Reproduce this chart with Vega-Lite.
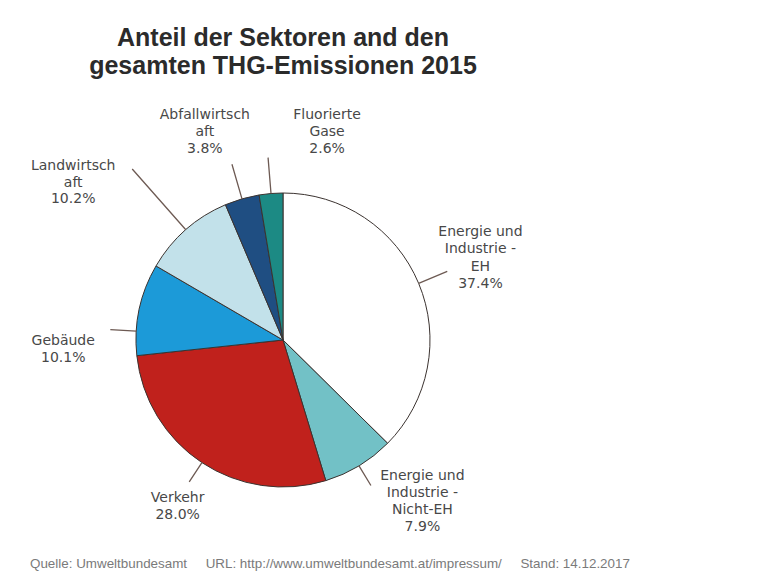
{
  "$schema": "https://vega.github.io/schema/vega-lite/v6.json",
  "background": "white",
  "padding": {"left": 0, "top": 25, "right": 0, "bottom": 0},
  "title": {
    "text": "Quelle: Umweltbundesamt\u00a0\u00a0\u00a0\u00a0\u00a0URL: http://www.umweltbundesamt.at/impressum/\u00a0\u00a0\u00a0\u00a0\u00a0Stand: 14.12.2017",
    "orient": "bottom",
    "anchor": "start",
    "frame": "group",
    "dx": 30,
    "offset": 17,
    "font": "Liberation Sans",
    "fontSize": 13.4,
    "fontWeight": "normal",
    "color": "#7a7a7a"
  },
  "config": {"view": {"stroke": null}},
  "vconcat": [
    {
      "width": 566,
      "height": 400,
      "title": {
        "text": ["Anteil der Sektoren and den", "gesamten THG-Emissionen 2015"],
        "anchor": "middle",
        "frame": "group",
        "font": "Liberation Sans",
        "fontSize": 25,
        "lineHeight": 28,
        "fontWeight": "bold",
        "color": "#2b2b2b",
        "offset": 29
      },
      "data": {
        "values": [
          {"sector": "Energie und Industrie - EH", "label": "Energie und\nIndustrie -\nEH", "value": 37.4},
          {"sector": "Energie und Industrie - Nicht-EH", "label": "Energie und\nIndustrie -\nNicht-EH", "value": 7.9},
          {"sector": "Verkehr", "label": "Verkehr", "value": 28.0},
          {"sector": "Gebäude", "label": "Gebäude", "value": 10.1},
          {"sector": "Landwirtschaft", "label": "Landwirtsch\naft", "value": 10.2},
          {"sector": "Abfallwirtschaft", "label": "Abfallwirtsch\naft", "value": 3.8},
          {"sector": "Fluorierte Gase", "label": "Fluorierte\nGase", "value": 2.6}
        ]
      },
      "transform": [
        {"stack": "value", "groupby": [], "as": ["v0", "v1"]},
        {"calculate": "(datum.v0 + datum.v1) / 2", "as": "mid"},
        {"calculate": "datum.label + '\\n' + format(datum.value, '.1f') + '%'", "as": "txt"}
      ],
      "layer": [
        {
          "mark": {"type": "arc", "outerRadius": 147, "stroke": "#3b3330", "strokeWidth": 1},
          "encoding": {
            "theta": {"field": "v0", "type": "quantitative", "scale": {"domain": [0, 100]}},
            "theta2": {"field": "v1"},
            "color": {
              "field": "sector",
              "type": "nominal",
              "scale": {
                "domain": ["Energie und Industrie - EH", "Energie und Industrie - Nicht-EH", "Verkehr", "Gebäude", "Landwirtschaft", "Abfallwirtschaft", "Fluorierte Gase"],
                "range": ["#ffffff", "#72c1c6", "#c0211c", "#1c9ad8", "#c2e1ea", "#1f4e82", "#1c8a84"]
              },
              "legend": null
            }
          }
        },
        {
          "transform": [{"filter": "datum.sector === 'Energie und Industrie - EH'"}],
          "mark": {"type": "arc", "radius": 178, "radius2": 147, "stroke": "#6d5a53", "strokeWidth": 1.3, "fillOpacity": 0},
          "encoding": {"theta": {"field": "mid", "type": "quantitative", "scale": {"domain": [0, 100]}}, "theta2": {"field": "mid"}}
        },
        {
          "transform": [{"filter": "datum.sector === 'Energie und Industrie - Nicht-EH' || datum.sector === 'Verkehr'"}],
          "mark": {"type": "arc", "radius": 170, "radius2": 147, "stroke": "#6d5a53", "strokeWidth": 1.3, "fillOpacity": 0},
          "encoding": {"theta": {"field": "mid", "type": "quantitative", "scale": {"domain": [0, 100]}}, "theta2": {"field": "mid"}}
        },
        {
          "transform": [{"filter": "datum.sector === 'Gebäude'"}],
          "mark": {"type": "arc", "radius": 173, "radius2": 147, "thetaOffset": -0.15, "theta2Offset": -0.15, "stroke": "#6d5a53", "strokeWidth": 1.3, "fillOpacity": 0},
          "encoding": {"theta": {"field": "mid", "type": "quantitative", "scale": {"domain": [0, 100]}}, "theta2": {"field": "mid"}}
        },
        {
          "transform": [{"filter": "datum.sector === 'Landwirtschaft'"}],
          "mark": {"type": "arc", "radius": 228, "radius2": 147, "stroke": "#6d5a53", "strokeWidth": 1.3, "fillOpacity": 0},
          "encoding": {"theta": {"field": "mid", "type": "quantitative", "scale": {"domain": [0, 100]}}, "theta2": {"field": "mid"}}
        },
        {
          "transform": [{"filter": "datum.sector === 'Abfallwirtschaft' || datum.sector === 'Fluorierte Gase'"}],
          "mark": {"type": "arc", "radius": 183, "radius2": 147, "stroke": "#6d5a53", "strokeWidth": 1.3, "fillOpacity": 0},
          "encoding": {"theta": {"field": "mid", "type": "quantitative", "scale": {"domain": [0, 100]}}, "theta2": {"field": "mid"}}
        },
        {
          "transform": [{"filter": "datum.sector === 'Energie und Industrie - EH'"}],
          "mark": {"type": "text", "radius": 214, "dy": -25.5, "lineBreak": "\n", "lineHeight": 17.5, "font": "DejaVu Sans", "fontSize": 14, "fill": "#484848", "align": "center", "baseline": "middle"},
          "encoding": {"theta": {"field": "mid", "type": "quantitative", "scale": {"domain": [0, 100]}}, "text": {"field": "txt", "type": "nominal"}}
        },
        {
          "transform": [{"filter": "datum.sector === 'Energie und Industrie - Nicht-EH'"}],
          "mark": {"type": "text", "radius": 213, "thetaOffset": -0.17, "dy": -25.5, "lineBreak": "\n", "lineHeight": 17.3, "font": "DejaVu Sans", "fontSize": 14, "fill": "#484848", "align": "center", "baseline": "middle"},
          "encoding": {"theta": {"field": "mid", "type": "quantitative", "scale": {"domain": [0, 100]}}, "text": {"field": "txt", "type": "nominal"}}
        },
        {
          "transform": [{"filter": "datum.sector === 'Verkehr'"}],
          "mark": {"type": "text", "radius": 197, "thetaOffset": -0.02, "dy": -8.5, "lineBreak": "\n", "lineHeight": 17, "font": "DejaVu Sans", "fontSize": 14, "fill": "#484848", "align": "center", "baseline": "middle"},
          "encoding": {"theta": {"field": "mid", "type": "quantitative", "scale": {"domain": [0, 100]}}, "text": {"field": "txt", "type": "nominal"}}
        },
        {
          "transform": [{"filter": "datum.sector === 'Gebäude'"}],
          "mark": {"type": "text", "radius": 220, "thetaOffset": -0.255, "dy": -8.5, "lineBreak": "\n", "lineHeight": 17, "font": "DejaVu Sans", "fontSize": 14, "fill": "#484848", "align": "center", "baseline": "middle"},
          "encoding": {"theta": {"field": "mid", "type": "quantitative", "scale": {"domain": [0, 100]}}, "text": {"field": "txt", "type": "nominal"}}
        },
        {
          "transform": [{"filter": "datum.sector === 'Landwirtschaft'"}],
          "mark": {"type": "text", "radius": 262, "thetaOffset": -0.206, "dy": -17, "lineBreak": "\n", "lineHeight": 16.5, "font": "DejaVu Sans", "fontSize": 14, "fill": "#484848", "align": "center", "baseline": "middle"},
          "encoding": {"theta": {"field": "mid", "type": "quantitative", "scale": {"domain": [0, 100]}}, "text": {"field": "txt", "type": "nominal"}}
        },
        {
          "transform": [{"filter": "datum.sector === 'Abfallwirtschaft'"}],
          "mark": {"type": "text", "radius": 222, "thetaOffset": -0.077, "dy": -17, "lineBreak": "\n", "lineHeight": 17, "font": "DejaVu Sans", "fontSize": 14, "fill": "#484848", "align": "center", "baseline": "middle"},
          "encoding": {"theta": {"field": "mid", "type": "quantitative", "scale": {"domain": [0, 100]}}, "text": {"field": "txt", "type": "nominal"}}
        },
        {
          "transform": [{"filter": "datum.sector === 'Fluorierte Gase'"}],
          "mark": {"type": "text", "radius": 213, "thetaOffset": 0.29, "dy": -17, "lineBreak": "\n", "lineHeight": 17, "font": "DejaVu Sans", "fontSize": 14, "fill": "#484848", "align": "center", "baseline": "middle"},
          "encoding": {"theta": {"field": "mid", "type": "quantitative", "scale": {"domain": [0, 100]}}, "text": {"field": "txt", "type": "nominal"}}
        }
      ]
    }
  ]
}
